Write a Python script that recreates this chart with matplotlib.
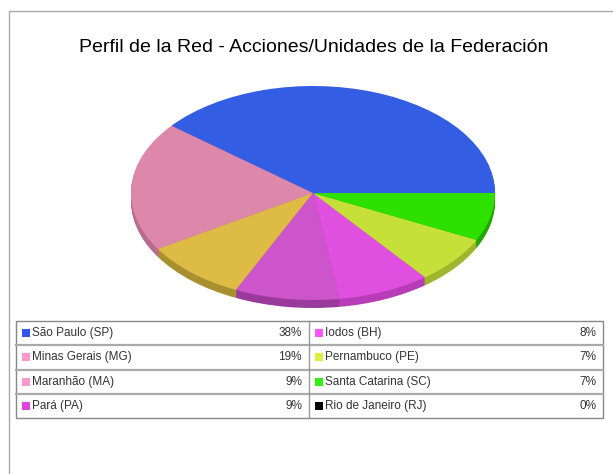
import matplotlib
matplotlib.use('Agg')
import matplotlib.pyplot as plt
from matplotlib.patches import Rectangle
from matplotlib.lines import Line2D

# data
labels = ['São Paulo (SP)', 'Minas Gerais (MG)', 'Maranhão (MA)', 'Pará (PA)',
          'Iodos (BH)', 'Pernambuco (PE)', 'Santa Catarina (SC)', 'Rio de Janeiro (RJ)']
values = [38, 19, 9, 9, 8, 7, 7, 0]
top_colors = ['#335ee4', '#dd88aa', '#ddbb44', '#cc55cc', '#e050e0', '#c6e03a', '#2ee000', '#000000']
side_colors = ['#2a4cb8', '#b86b8c', '#a88f30', '#9a3a9a', '#b83cb8', '#9fb52c', '#22a800', '#000000']
key_colors = ['#3355ee', '#ff99cc', '#ff99cc', '#dd44dd', '#ff55ff', '#ddee44', '#33ee11', '#000000']

W, H = 613, 474
fig = plt.figure(figsize=(W / 100, H / 100), dpi=100)

def fx(px):
    return px / W

def fy(py):
    return 1 - py / H

# outer frame (runs off the bottom/right of the image)
fig.add_artist(Rectangle((fx(9), fy(490)), 620 / W, (490 - 11) / H, fill=False,
                         edgecolor='#aaaaaa', lw=1.0, transform=fig.transFigure))

fig.text(fx(314), fy(47), 'Perfil de la Red - Acciones/Unidades de la Federación',
         ha='center', va='center', fontsize=14,
         family=['Liberation Sans Narrow', 'Liberation Sans', 'DejaVu Sans'])

# pie, squashed into an ellipse with a little depth
rx, ry, cx, cy, depth = 182, 107, 313, 193, 8
ax = fig.add_axes([fx(cx - rx), fy(cy + ry + depth), 2 * rx / W, (2 * ry + depth) / H])
vals = [v for v in values if v > 0]
n = len(vals)
for k in range(depth, 0, -1):
    ax.pie(vals, colors=side_colors[:n], startangle=0, counterclock=True,
           center=(0, -k / ry), radius=1, wedgeprops=dict(linewidth=0))
ax.pie(vals, colors=top_colors[:n], startangle=0, counterclock=True,
       center=(0, 0), radius=1, wedgeprops=dict(linewidth=0))
ax.set_aspect('auto')
ax.set_xlim(-1, 1)
ax.set_ylim(-1 - depth / ry, 1)
ax.axis('off')

# legend table
tx0, tx1, ty0, ty1, split = 16, 603, 321, 418, 309
rows = 4
rh = (ty1 - ty0) / rows
fig.add_artist(Rectangle((fx(tx0), fy(ty1)), (tx1 - tx0) / W, (ty1 - ty0) / H, fill=False,
                         edgecolor='#888888', lw=1.0, transform=fig.transFigure))
for r in range(1, rows):
    y = ty0 + r * rh
    fig.add_artist(Line2D([fx(tx0), fx(tx1)], [fy(y), fy(y)], color='#aaaaaa', lw=1.6,
                          transform=fig.transFigure))
fig.add_artist(Line2D([fx(split), fx(split)], [fy(ty0), fy(ty1)], color='#999999', lw=1.0,
                      transform=fig.transFigure))

legend_font = ['Liberation Sans Narrow', 'Liberation Sans', 'DejaVu Sans']
for i, (lab, v, c) in enumerate(zip(labels, values, key_colors)):
    col, r = divmod(i, rows)
    x0 = tx0 if col == 0 else split
    x1 = split if col == 0 else tx1
    yc = ty0 + (r + 0.5) * rh
    fig.add_artist(Rectangle((fx(x0 + 6), fy(yc + 4)), 8 / W, 8 / H, facecolor=c,
                             edgecolor='none', transform=fig.transFigure))
    fig.text(fx(x0 + 16), fy(yc), lab, ha='left', va='center', fontsize=8.5,
             color='#333333', family=legend_font)
    fig.text(fx(x1 - 7), fy(yc), f'{v}%', ha='right', va='center', fontsize=8.5,
             color='#333333', family=legend_font)

fig.savefig('out.png', dpi=100, facecolor='white')
plt.close(fig)
